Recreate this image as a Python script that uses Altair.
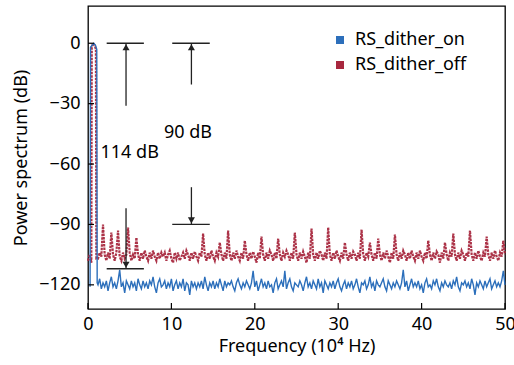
import altair as alt
import pandas as pd

FONT = "Noto Sans"
BLUE = "#2c6fbb"
RED = "#a8283e"

series_names = ["RS_dither_on", "RS_dither_off"]

# Peak region (frequency in 10^4 Hz, power in dB)
blue_peak_x = [0.25, 0.3, 0.5, 0.7, 0.9, 1.05, 1.1]
blue_peak_y = [-121, -2, -1, 0, -1, -3, -119]
red_peak_x = [0.0, 0.2, 0.4, 0.45, 0.6, 0.8, 0.95, 1.0]
red_peak_y = [-108, -105, -109, -2, 0, -1, -3, -107]

# Noise floor, frequency bins 1.2 .. 50.0 step 0.2
grid_start = 1.2
grid_step = 0.2
blue_floor = [
    -120, -117, -122, -119, -121, -118, -123, -119, -116, -121,
    -119, -122, -118, -112.5, -121, -119, -124, -118, -120, -122,
    -118, -121, -119, -123, -117, -120, -122, -118, -121, -119,
    -122, -118, -120, -116, -121, -124, -119, -117, -121, -120,
    -118, -122, -119, -121, -117, -123, -120, -118, -122, -119,
    -121, -117, -123, -119, -120, -125, -118, -121, -119, -122,
    -119, -121, -118, -122, -116, -120, -123, -119, -121, -118,
    -122, -119, -121, -117, -120, -123, -118, -121, -119, -120,
    -118, -121, -123, -119, -117, -120, -122, -119, -121, -118,
    -120, -122, -119, -113, -121, -118, -123, -120, -117, -121,
    -119, -122, -118, -121, -120, -124, -119, -117, -122, -120,
    -118, -121, -113, -122, -119, -117, -121, -123, -119, -120,
    -121, -118, -120, -123, -119, -116, -121, -119, -122, -118,
    -120, -122, -117, -121, -119, -124, -118, -120, -122, -119,
    -121, -118, -122, -119, -117, -121, -123, -120, -118, -122,
    -119, -121, -118, -122, -120, -117, -121, -124, -119, -120,
    -118, -122, -120, -116, -121, -119, -123, -118, -120, -121,
    -119, -117, -121, -123, -118, -120, -122, -119, -121, -118,
    -120, -122, -119, -112.5, -121, -118, -123, -120, -117, -121,
    -119, -121, -118, -122, -120, -124, -119, -117, -121, -120,
    -122, -118, -120, -117, -121, -123, -119, -121, -118, -120,
    -121, -119, -122, -118, -120, -116, -121, -123, -119, -120,
    -118, -121, -119, -122, -117, -120, -125, -119, -121, -118,
    -120, -122, -118, -121, -119, -117, -122, -120, -118, -121,
    -119, -121, -118, -113, -120,
]
red_floor = [
    -107, -104, -106, -90, -105, -108, -104, -107, -94, -105,
    -108, -104, -93, -106, -108, -104, -107, -105, -91.5, -104,
    -108, -105, -107, -96.5, -105, -108, -104, -107, -103, -106,
    -108, -104, -107, -103, -106, -108, -104, -107, -104, -106,
    -104, -108, -105, -103, -107, -109, -104, -107, -104, -108,
    -106, -104, -107, -103, -105, -108, -104, -107, -103.5, -106,
    -108, -104, -106, -94.5, -105, -108, -104, -107, -103, -106,
    -108, -104, -106, -99, -105, -108, -104, -107, -93, -105,
    -108, -104, -107, -103, -106, -108, -104, -107, -98, -105,
    -108, -104, -107, -103.5, -106, -109, -104, -107, -96, -105,
    -108, -104, -107, -103, -105, -108, -104, -107, -97, -105,
    -108, -104, -106, -103, -105, -108, -104, -107, -94, -105,
    -108, -104, -107, -103.5, -106, -109, -104, -107, -92, -105,
    -108, -104, -107, -103, -105, -108, -104, -107, -91.5, -105,
    -108, -104, -107, -103, -106, -108, -104, -107, -99, -105,
    -108, -104, -107, -103.5, -105, -108, -104, -107, -92.5, -105,
    -108, -104, -106, -99, -105, -108, -104, -107, -97, -105,
    -108, -104, -107, -103, -106, -109, -104, -107, -95, -105,
    -108, -104, -107, -103, -105, -108, -104, -107, -103, -106,
    -108, -104, -107, -103, -106, -108, -104, -107, -98, -105,
    -108, -104, -107, -103.5, -105, -109, -104, -107, -99, -105,
    -108, -104, -106, -94.5, -105, -108, -104, -107, -103, -105,
    -108, -104, -106, -93, -105, -108, -104, -107, -103, -106,
    -108, -104, -106, -96, -105, -108, -104, -107, -103, -106,
    -108, -104, -106, -98, -105,
]

x_tick_values = [0, 10, 20, 30, 40, 50]
y_tick_values = [-120, -90, -60, -30, 0]

# Annotations
hline_x1 = [2.24, 10.1, 2.24, 10.1]
hline_x2 = [6.7, 14.6, 6.7, 14.6]
hline_y = [0, 0, -112, -90]
arrow_x = [4.56, 12.4, 4.56, 12.4]
arrow_from = [-31, -20.5, -82, -71.5]
arrow_to = [0, 0, -112, -90]
arrow_dir = ["up", "up", "down", "down"]
label_text = ["114 dB", "90 dB"]
label_x = [1.5, 9.1]
label_y = [-54.7, -44.7]

grid_x = [round(grid_start + grid_step * i, 1) for i in range(len(blue_floor))]
df_blue = pd.DataFrame({"f": blue_peak_x + grid_x, "p": blue_peak_y + blue_floor})
df_blue["i"] = range(len(df_blue))
df_red = pd.DataFrame({"f": red_peak_x + grid_x, "p": red_peak_y + red_floor})
df_red["i"] = range(len(df_red))

xs = alt.Scale(domain=[0, 50], nice=False, zero=False)
ys = alt.Scale(domain=[-132, 18.5], nice=False, zero=False)

x_axis = alt.Axis(values=x_tick_values, title="Frequency (10⁴ Hz)", grid=False, ticks=False,
                  domain=False, labelFontSize=18, labelFont=FONT, labelColor="black",
                  labelPadding=6, titleFontSize=18, titleFont=FONT, titleFontWeight="normal",
                  titleColor="black", titlePadding=4, labelFlush=False)
y_axis = alt.Axis(values=y_tick_values, title="Power spectrum (dB)", grid=False, ticks=False,
                  domain=False, labelFontSize=18, labelFont=FONT, labelColor="black",
                  labelPadding=8, titleFontSize=18, titleFont=FONT, titleFontWeight="normal",
                  titleColor="black", titlePadding=8, labelFlush=False)

red_line = alt.Chart(df_red).mark_line(color=RED, strokeWidth=2.2, strokeDash=[2.5, 1], opacity=0.95).encode(
    x=alt.X("f:Q", scale=xs, axis=x_axis),
    y=alt.Y("p:Q", scale=ys, axis=y_axis),
    order="i:Q",
)
blue_line = alt.Chart(df_blue).mark_line(color=BLUE, strokeWidth=1.4).encode(
    x=alt.X("f:Q", scale=xs), y=alt.Y("p:Q", scale=ys), order="i:Q"
)

legend_df = pd.DataFrame({"series": series_names, "f": [0, 0], "p": [0, 0]})
legend_layer = alt.Chart(legend_df).mark_square(size=64, opacity=1).encode(
    x=alt.X("f:Q", scale=xs),
    y=alt.Y("p:Q", scale=ys),
    color=alt.Color("series:N", scale=alt.Scale(domain=series_names, range=[BLUE, RED]),
                    legend=alt.Legend(title=None, orient="none", legendX=243, legendY=25,
                                      symbolType="square", symbolSize=64, symbolStrokeWidth=0,
                                      labelFontSize=18, labelFont=FONT, labelColor="black",
                                      labelOffset=6, rowPadding=7, padding=0, symbolOpacity=1)),
).transform_filter("datum.f > 100")

xt_df = pd.DataFrame({"v": x_tick_values})
x_ticks = alt.Chart(xt_df).mark_rule(color="black", strokeWidth=1.2).encode(
    x=alt.X("v:Q", scale=xs), y=alt.value(303), y2=alt.value(297)
)
yt_df = pd.DataFrame({"v": y_tick_values})
y_ticks = alt.Chart(yt_df).mark_rule(color="black", strokeWidth=1.2).encode(
    y=alt.Y("v:Q", scale=ys), x=alt.value(0), x2=alt.value(6)
)

h_df = pd.DataFrame({"x1": hline_x1, "x2": hline_x2, "y": hline_y})
hlines = alt.Chart(h_df).mark_rule(color="#222222", strokeWidth=1.3).encode(
    x=alt.X("x1:Q", scale=xs), x2="x2:Q", y=alt.Y("y:Q", scale=ys)
)
a_df = pd.DataFrame({"x": arrow_x, "y1": arrow_from, "y2": arrow_to, "dir": arrow_dir})
a_df["hy"] = [t - 2 if d == "up" else t + 2 for t, d in zip(arrow_to, arrow_dir)]
shafts = alt.Chart(a_df).mark_rule(color="#222222", strokeWidth=1.3).encode(
    x=alt.X("x:Q", scale=xs), y=alt.Y("y1:Q", scale=ys), y2="y2:Q"
)
heads = alt.Chart(a_df).mark_point(filled=True, color="#222222", size=50, opacity=1).encode(
    x=alt.X("x:Q", scale=xs), y=alt.Y("hy:Q", scale=ys),
    shape=alt.Shape("dir:N", scale=alt.Scale(domain=["up", "down"], range=["triangle-up", "triangle-down"]), legend=None),
)
t_df = pd.DataFrame({"t": label_text, "x": label_x, "y": label_y})
texts = alt.Chart(t_df).mark_text(align="left", baseline="middle", fontSize=18, font=FONT, color="black").encode(
    x=alt.X("x:Q", scale=xs), y=alt.Y("y:Q", scale=ys), text="t:N"
)

chart = alt.layer(red_line, blue_line, legend_layer, x_ticks, y_ticks, hlines, shafts, heads, texts).properties(
    width=417, height=303,
    autosize=alt.AutoSizeParams(type="none"),
    padding={"left": 88, "top": 6, "right": 9, "bottom": 56},
    background="white",
).configure_view(stroke="black", strokeWidth=1.3).resolve_scale(color="independent", shape="independent")

chart.save("out.html", embed_options={"renderer": "svg", "actions": False})
